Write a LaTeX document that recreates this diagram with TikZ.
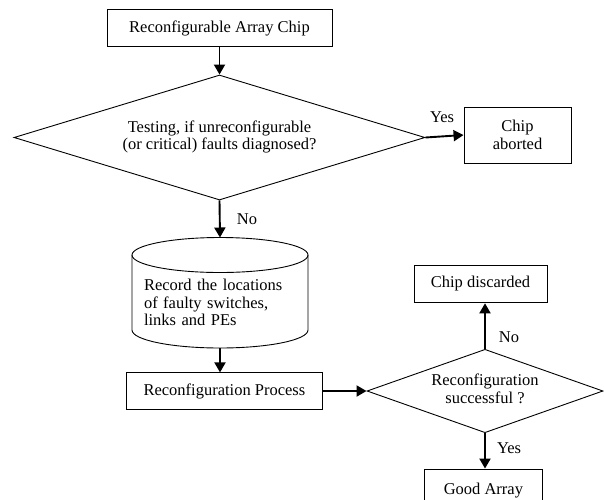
\documentclass[tikz,border=0pt]{standalone}
\usepackage{fontspec}
\setmainfont{Liberation Serif}
\usetikzlibrary{shapes.geometric,arrows.meta,calc}
\begin{document}
\begin{tikzpicture}[
  x=1pt,y=1pt,
  every node/.style={font=\fontsize{16.5}{17.8}\selectfont},
  box/.style={draw,line width=0.9pt,inner sep=0pt,align=center},
  dec/.style={draw,line width=0.9pt,shape=diamond,inner sep=0pt,align=center},
  flow/.style={line width=1.9pt,-{Triangle[length=10pt,width=11pt]}},
  lab/.style={inner sep=0pt}
]
\useasboundingbox (0,0) rectangle (604,-499);
\node[box,minimum width=225pt,minimum height=37.4pt] (chip) at (219.5,-28) {Reconfigurable Array Chip};
\node[dec,aspect=3.29,minimum width=411pt,minimum height=125pt] (test) at (219.5,-137.5)
  {\raisebox{9pt}{\begin{tabular}{@{}c@{}}Testing, if unreconfigurable\\(or critical) faults diagnosed?\end{tabular}}};
\node[box,minimum width=107pt,minimum height=56pt] (abort) at (517.5,-135) {Chip\\aborted};
\node[inner sep=0pt,minimum width=176pt,text width=152pt,align=left] (rec) at (220,-302.5)
  {Record the locations\\of faulty switches,\\links and PEs};
\coordinate (ctop) at ($(rec.center)+(0,47.5)$);
\coordinate (cbot) at ($(rec.center)+(0,-27.5)$);
\coordinate (cyltop) at ($(ctop)+(0,17.5)$);
\coordinate (cylbot) at ($(cbot)+(0,-18)$);
\draw[line width=0.9pt] ($(ctop)+(-88,0)$) -- ($(cbot)+(-88,0)$)
  arc[start angle=180,end angle=360,x radius=88,y radius=18] -- ($(ctop)+(88,0)$);
\draw[line width=0.9pt] (ctop) ellipse[x radius=88,y radius=17.5];
\node[box,minimum width=195.3pt,minimum height=36.3pt] (proc) at (224.4,-391) {Reconfiguration Process};
\node[dec,aspect=2.83,minimum width=236pt,minimum height=83.4pt] (succ) at (485,-391)
  {\begin{tabular}{@{}c@{}}Reconfiguration\\successful ?\end{tabular}};
\node[box,minimum width=133pt,minimum height=37.7pt] (disc) at (480.5,-284) {Chip discarded};
\node[box,minimum width=118.7pt,minimum height=44pt] (good) at (483.4,-491) {\raisebox{3.5pt}{Good Array}};
\draw[flow] (chip.south) -- (test.north);
\draw[flow] (test.east) -- (abort.west);
\draw[flow] (test.south) -- (cyltop);
\draw[flow] (cylbot) -- (cylbot |- proc.north);
\draw[flow] (proc.east) -- (succ.west);
\draw[flow] (succ.north) -- (succ.north |- disc.south);
\draw[flow] (succ.south) -- (succ.south |- good.north);
\node[lab] (yes1) at (442,-117) {Yes};
\node[lab] (no1) at (247,-219) {No};
\node[lab] (no2) at (509,-337) {No};
\node[lab] (yes2) at (509,-448) {Yes};
\end{tikzpicture}
\end{document}
